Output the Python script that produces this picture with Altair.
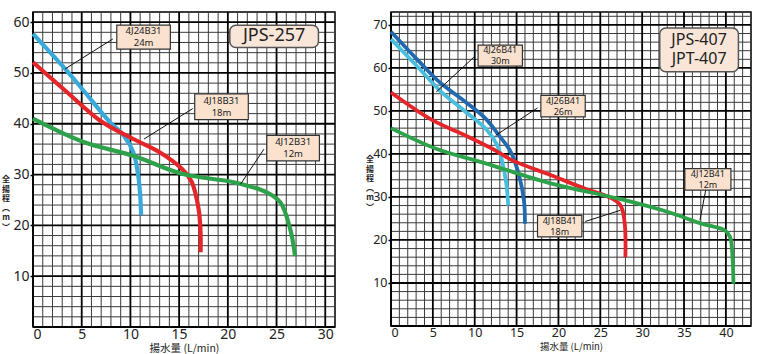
import altair as alt
import pandas as pd

# ---------------- Left panel: JPS-257 ----------------
L_X_24 = [0, 3.3, 5.2, 7.9, 9.3, 10.3, 10.8, 11.0, 11.1]
L_Y_24 = [57.7, 50.8, 46.5, 40.3, 37.7, 34.4, 29.8, 26.0, 22.0]
L_X_18 = [0, 3.5, 6.9, 10.3, 13.0, 15.3, 16.3, 17.0, 17.2, 17.2]
L_Y_18 = [52.1, 46.2, 40.6, 37.0, 34.4, 31.1, 28.5, 23.2, 18.6, 14.7]
L_X_12 = [0, 5.2, 10.3, 15.4, 20.6, 24.0, 25.4, 26.4, 26.9]
L_Y_12 = [41.0, 36.4, 33.7, 30.1, 28.5, 26.5, 24.5, 19.3, 14.0]

L_BOX_TEXT = ["4J24B31\n24m", "4J18B31\n18m", "4J12B31\n12m"]
L_BOX_X1 = [8.6, 16.6, 24.0]
L_BOX_X2 = [14.1, 22.1, 29.4]
L_BOX_Y1 = [59.4, 45.9, 37.7]
L_BOX_Y2 = [54.7, 40.8, 32.7]
L_LEAD_X1 = [8.2, 16.4, 23.7]
L_LEAD_Y1 = [56.7, 43.0, 35.0]
L_LEAD_X2 = [3.3, 11.4, 21.3]
L_LEAD_Y2 = [50.8, 37.0, 28.1]
L_TITLE = ["JPS-257"]
L_TITLE_BOX = [20.2, 29.3, 59.4, 55.0]

# ---------------- Right panel: JPS-407 / JPT-407 ----------------
R_X_30 = [0, 3.4, 5.8, 8.9, 11.3, 12.9, 14.3, 15.3, 15.9, 16.0]
R_Y_30 = [68.4, 61.4, 56.7, 52.1, 48.2, 44.3, 40.5, 35.0, 28.8, 23.8]
R_X_26 = [0, 3.4, 5.8, 8.9, 11.3, 12.7, 13.3, 13.8, 14.0]
R_Y_26 = [66.7, 59.8, 54.8, 49.8, 45.9, 42.0, 38.1, 32.7, 28.0]
R_X_18 = [0, 5.0, 8.9, 12.1, 14.5, 19.2, 23.2, 26.0, 27.4, 27.9, 28.0]
R_Y_18 = [54.3, 47.8, 44.3, 41.2, 38.5, 35.0, 31.9, 30.0, 28.1, 24.2, 16.0]
R_X_12 = [0, 5.4, 11.3, 19.2, 27.2, 33.1, 37.1, 39.9, 40.5, 40.8, 40.9]
R_Y_12 = [46.0, 41.2, 37.8, 33.1, 29.6, 26.5, 23.8, 22.2, 20.7, 15.7, 9.8]

R_BOX_TEXT = ["4J26B41\n30m", "4J26B41\n26m", "4J18B41\n18m", "4J12B41\n12m"]
R_BOX_X1 = [10.4, 17.9, 17.5, 35.1]
R_BOX_X2 = [15.7, 23.2, 22.8, 40.6]
R_BOX_Y1 = [65.3, 53.6, 25.7, 36.6]
R_BOX_Y2 = [60.4, 48.6, 20.7, 31.6]
R_LEAD_X1 = [9.9, 17.5, 23.2, 37.6]
R_LEAD_Y1 = [62.5, 50.7, 24.3, 31.7]
R_LEAD_X2 = [5.4, 12.5, 27.4, 36.9]
R_LEAD_Y2 = [54.4, 44.3, 26.9, 24.6]
R_TITLE = ["JPS-407\nJPT-407"]
R_TITLE_BOX = [32.1, 41.5, 69.3, 59.1]

X_TITLE = "揚水量 (L/min)"
Y_TITLE = "全\n揚\n程\n︵\nm\n︶"

FONT = "Noto Sans"
JFONT = "Noto Sans CJK JP"
BOX_FILL = "#fae2cf"


def curves_df(series):
    rows = []
    for name, xs, ys in series:
        for i, (x, y) in enumerate(zip(xs, ys)):
            rows.append({"s": name, "x": x, "y": y, "o": i})
    return pd.DataFrame(rows)


def panel(width, height, xmax, ymax, xticks, yticks, series, colors,
          box_text, bx1, bx2, by1, by2, lx1, ly1, lx2, ly2,
          title_text, title_box, label_size, box_font, title_font,
          ytitle_x, ytitle_y, xtitle_size, xtitle_y, xlabel_pad, lw):
    xs = alt.Scale(domain=[0, xmax], nice=False, zero=False)
    ys = alt.Scale(domain=[0, ymax], nice=False, zero=False)

    vgrid = pd.DataFrame({"v": list(range(0, int(xmax) + 1))})
    vgrid["major"] = vgrid["v"] % 5 == 0
    hgrid = pd.DataFrame({"v": list(range(0, int(ymax) + 1, 2))})
    hgrid["major"] = hgrid["v"] % 10 == 0

    vminor = alt.Chart(vgrid[~vgrid["major"]]).mark_rule(color="#3a3a3a", strokeWidth=1).encode(
        x=alt.X("v:Q", scale=xs, axis=alt.Axis(
            values=xticks, grid=False, ticks=False, domain=False,
            labelFontSize=label_size, labelFont=FONT, labelColor="#222",
            labelPadding=xlabel_pad, title=X_TITLE, titleFont=JFONT,
            titleFontSize=xtitle_size, titleFontWeight="normal", titleColor="#222",
            titleY=xtitle_y, titleBaseline="middle")))
    vmajor = alt.Chart(vgrid[vgrid["major"]]).mark_rule(color="#000", strokeWidth=1.8).encode(
        x=alt.X("v:Q", scale=xs))
    hminor = alt.Chart(hgrid[~hgrid["major"]]).mark_rule(color="#3a3a3a", strokeWidth=1).encode(
        y=alt.Y("v:Q", scale=ys, axis=alt.Axis(
            values=yticks, grid=False, ticks=True, tickSize=3, tickColor="#000",
            tickWidth=1.5, domain=False,
            labelFontSize=label_size, labelFont=FONT, labelColor="#222",
            labelPadding=1, title=None)))
    hmajor = alt.Chart(hgrid[hgrid["major"]]).mark_rule(color="#000", strokeWidth=1.8).encode(
        y=alt.Y("v:Q", scale=ys))

    ytitle = alt.Chart(pd.DataFrame({"t": [Y_TITLE]})).mark_text(
        font=JFONT, fontSize=8, fontWeight="bold", color="#222", lineBreak="\n",
        lineHeight=9.5, baseline="top", align="center").encode(
        x=alt.value(ytitle_x), y=alt.value(ytitle_y), text="t:N")

    cdf = curves_df(series)
    names = [s[0] for s in series]
    lines = alt.Chart(cdf).mark_line(strokeWidth=lw, interpolate="catmull-rom",
                                     strokeCap="butt").encode(
        x=alt.X("x:Q", scale=xs),
        y=alt.Y("y:Q", scale=ys),
        color=alt.Color("s:N", scale=alt.Scale(domain=names, range=colors), legend=None),
        order="o:Q",
        detail="s:N")

    lead = pd.DataFrame({"x1": lx1, "y1": ly1, "x2": lx2, "y2": ly2})
    leaders = alt.Chart(lead).mark_rule(color="#111", strokeWidth=1).encode(
        x=alt.X("x1:Q", scale=xs), y=alt.Y("y1:Q", scale=ys), x2="x2:Q", y2="y2:Q")

    box = pd.DataFrame({"t": box_text, "x1": bx1, "x2": bx2, "y1": by1, "y2": by2})
    box["xc"] = (box["x1"] + box["x2"]) / 2
    box["yc"] = (box["y1"] + box["y2"]) / 2
    rects = alt.Chart(box).mark_rect(fill=BOX_FILL, stroke="#333", strokeWidth=1.2).encode(
        x=alt.X("x1:Q", scale=xs), x2="x2:Q", y=alt.Y("y1:Q", scale=ys), y2="y2:Q")
    blh = box_font + 2.2
    texts = alt.Chart(box).mark_text(fontSize=box_font, font=FONT, color="#222",
                                     lineBreak="\n", lineHeight=blh,
                                     baseline="middle", dy=-blh / 2).encode(
        x=alt.X("xc:Q", scale=xs), y=alt.Y("yc:Q", scale=ys), text="t:N")

    tb = pd.DataFrame({"t": title_text, "x1": [title_box[0]], "x2": [title_box[1]],
                       "y1": [title_box[2]], "y2": [title_box[3]]})
    tb["xc"] = (tb["x1"] + tb["x2"]) / 2
    tb["yc"] = (tb["y1"] + tb["y2"]) / 2
    nlines = title_text[0].count("\n")
    tlh = title_font + 3
    trect = alt.Chart(tb).mark_rect(fill="#f9e6d8", stroke="#555", strokeWidth=1.5,
                                    cornerRadius=6).encode(
        x=alt.X("x1:Q", scale=xs), x2="x2:Q", y=alt.Y("y1:Q", scale=ys), y2="y2:Q")
    ttext = alt.Chart(tb).mark_text(fontSize=title_font, font=FONT, color="#222",
                                    lineBreak="\n", lineHeight=tlh,
                                    baseline="middle", dy=-tlh * nlines / 2).encode(
        x=alt.X("xc:Q", scale=xs), y=alt.Y("yc:Q", scale=ys), text="t:N")

    return alt.layer(vminor, hminor, vmajor, hmajor, lines, leaders, rects, texts,
                     trect, ttext, ytitle).properties(width=width, height=height)


left = panel(
    302, 315, 31, 62, [0, 5, 10, 15, 20, 25, 30], [10, 20, 30, 40, 50, 60],
    [("24", L_X_24, L_Y_24), ("18", L_X_18, L_Y_18), ("12", L_X_12, L_Y_12)],
    ["#39a9dc", "#e4262a", "#2ea24a"],
    L_BOX_TEXT, L_BOX_X1, L_BOX_X2, L_BOX_Y1, L_BOX_Y2,
    L_LEAD_X1, L_LEAD_Y1, L_LEAD_X2, L_LEAD_Y2,
    L_TITLE, L_TITLE_BOX, 14, 9.5, 18, -27, 164, 10.5, 21, 0, 4.2)

right = panel(
    360, 314, 43, 73, [0, 5, 10, 15, 20, 25, 30, 35, 40], [10, 20, 30, 40, 50, 60, 70],
    [("30", R_X_30, R_Y_30), ("26", R_X_26, R_Y_26), ("18", R_X_18, R_Y_18),
     ("12", R_X_12, R_Y_12)],
    ["#2169b0", "#49bfe0", "#e4262a", "#2ea24a"],
    R_BOX_TEXT, R_BOX_X1, R_BOX_X2, R_BOX_Y1, R_BOX_Y2,
    R_LEAD_X1, R_LEAD_Y1, R_LEAD_X2, R_LEAD_Y2,
    R_TITLE, R_TITLE_BOX, 12.5, 9, 16, -21, 144, 9.5, 20, 0, 3.8)

chart = alt.hconcat(left, right, spacing=28).resolve_scale(
    x="independent", y="independent", color="independent"
).properties(
    padding={"left": 1, "top": 10, "right": 0, "bottom": 0},
    background="white"
).configure_view(stroke="#000", strokeWidth=1.5)

chart.save("out.html", embed_options={"renderer": "svg", "actions": False})
